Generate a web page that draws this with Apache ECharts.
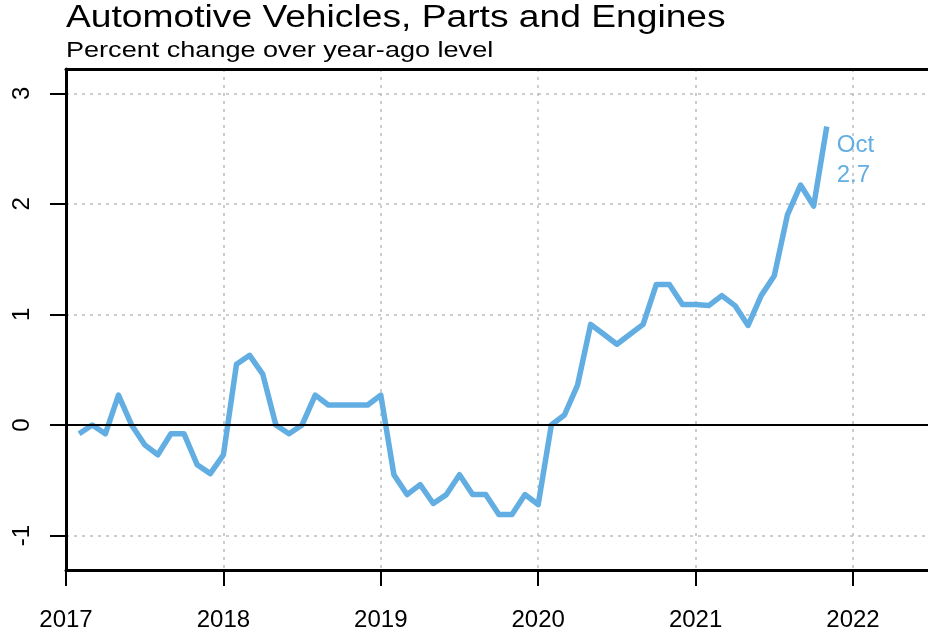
<!DOCTYPE html>
<html>
<head>
<meta charset="utf-8">
<script src="https://cdn.jsdelivr.net/npm/echarts@6/dist/echarts.min.js"></script>
<style>
  html, body { margin: 0; padding: 0; background: #fff; }
  #chart { width: 928px; height: 636px; }
</style>
</head>
<body>
<div id="chart"></div>
<script>
// Year-over-year % change, monthly, Jan 2017 .. Oct 2021
const startYear = 2017;
const monthNames = ['Jan', 'Feb', 'Mar', 'Apr', 'May', 'Jun', 'Jul', 'Aug', 'Sep', 'Oct', 'Nov', 'Dec'];
const values2017 = [-0.08, 0.00, -0.08, 0.27, 0.00, -0.18, -0.27, -0.08, -0.08, -0.36, -0.44, -0.27];
const values2018 = [0.55, 0.63, 0.46, 0.00, -0.08, 0.00, 0.27, 0.18, 0.18, 0.18, 0.18, 0.27];
const values2019 = [-0.45, -0.63, -0.54, -0.71, -0.63, -0.45, -0.63, -0.63, -0.81, -0.81, -0.63, -0.72];
const values2020 = [0.00, 0.09, 0.36, 0.91, 0.82, 0.73, 0.82, 0.91, 1.27, 1.27, 1.09, 1.09];
const values2021 = [1.08, 1.17, 1.08, 0.90, 1.17, 1.35, 1.90, 2.17, 1.98, 2.70];
const yTickValues = [-1, 0, 1, 2, 3];
const xTickValues = [2017, 2018, 2019, 2020, 2021, 2022];

const values = [].concat(values2017, values2018, values2019, values2020, values2021);
// each monthly observation is plotted at the end of its month
const seriesData = values.map((v, i) => [startYear + (i + 1) / 12, v]);
const lastIdx = values.length - 1;
const lastLabel = monthNames[lastIdx % 12] + '\n' + values[lastIdx].toFixed(1);

const lineColor = '#62AEE2';
const gridColor = '#BDBDBD';
const font = '"Liberation Sans", Arial, Helvetica, sans-serif';

// plot box runs off the right edge of the page: no right border
const plotLeft = 66, plotTop = 69, plotHeight = 501;
const pxPerYear = 157.4;
const xMax = startYear + (928 - plotLeft) / pxPerYear;

const chart = echarts.init(document.getElementById('chart'), null, { renderer: 'canvas' });
chart.setOption({
  animation: false,
  backgroundColor: '#ffffff',
  graphic: [
    {
      type: 'text', left: 66, top: 3, scaleX: 1.2,
      style: { text: 'Automotive Vehicles, Parts and Engines', font: '31px ' + font, fill: '#000' }
    },
    {
      type: 'text', left: 66, top: 40, scaleX: 1.23,
      style: { text: 'Percent change over year-ago level', font: '22px ' + font, fill: '#000' }
    }
  ],
  grid: {
    left: plotLeft, top: plotTop, right: 0, height: plotHeight,
    show: false
  },
  xAxis: [
    {
      type: 'value', position: 'bottom',
      min: startYear, max: xMax,
      axisLine: { show: true, onZero: false, lineStyle: { color: '#000', width: 3 } },
      axisTick: { show: true, length: 16, inside: false, customValues: xTickValues,
        lineStyle: { color: '#000', width: 2 } },
      axisLabel: { customValues: xTickValues, margin: 38, fontSize: 24, color: '#000',
        fontFamily: font, formatter: v => String(v) },
      splitLine: { show: true, lineStyle: { color: gridColor, width: 1.5, type: [3, 5] } }
    },
    {
      type: 'value', position: 'top',
      min: startYear, max: xMax,
      axisLine: { show: true, onZero: false, lineStyle: { color: '#000', width: 3 } },
      axisTick: { show: false },
      axisLabel: { show: false },
      splitLine: { show: false }
    }
  ],
  yAxis: {
    type: 'value',
    min: -1.312, max: 3.22,
    axisLine: { show: true, onZero: false, lineStyle: { color: '#000', width: 3 } },
    axisTick: { show: true, length: 16, customValues: yTickValues,
      lineStyle: { color: '#000', width: 2 } },
    axisLabel: { customValues: yTickValues, rotate: 90, margin: 32, fontSize: 24,
      color: '#000', fontFamily: font, formatter: v => String(v) },
    splitLine: { show: true, lineStyle: { color: gridColor, width: 1.5, type: [3, 5] } }
  },
  series: [{
    type: 'line',
    xAxisIndex: 0,
    data: seriesData,
    symbol: 'none',
    smooth: false,
    lineStyle: { color: lineColor, width: 5.5, cap: 'butt', join: 'round' },
    endLabel: {
      show: true,
      formatter: () => lastLabel,
      color: lineColor,
      fontSize: 24,
      fontFamily: font,
      lineHeight: 30,
      distance: 10,
      offset: [0, 34],
      align: 'left'
    },
    markLine: {
      silent: true,
      symbol: 'none',
      label: { show: false },
      lineStyle: { color: '#000', width: 2, type: 'solid' },
      data: [{ yAxis: 0 }]
    },
    z: 3
  }]
});
</script>
</body>
</html>
